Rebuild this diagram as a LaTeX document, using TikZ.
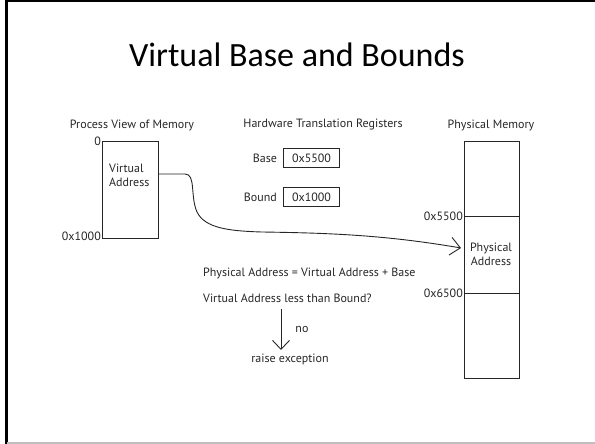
\documentclass[tikz,border=0pt]{standalone}
\usepackage{fontspec}
\setmainfont{PT Sans}
\newfontfamily\titlefont{Carlito}
\usetikzlibrary{arrows.meta}

\begin{document}
\begin{tikzpicture}[x=1pt,y=-1pt,
  every node/.style={text=black!85,font=\fontsize{12}{14}\selectfont,inner sep=1pt},
  membox/.style={draw=black!85,line width=0.9pt,anchor=north west,minimum width=#1,inner sep=0pt},
  regbox/.style={draw=black!85,line width=0.8pt,minimum width=56pt,minimum height=19pt,inner sep=0pt},
  barb/.style={-{Straight Barb[length=10pt,width=18pt,line width=0.9pt]},line width=0.9pt,black!85}]
\useasboundingbox (0,0) rectangle (595,444);
% slide frame
\fill[black] (5,0) rectangle (7.5,444);
\fill[black] (5,0) rectangle (595,2);
\draw[black!25,line width=1.2pt] (7,443) -- (595,443);

\node[font=\titlefont\fontsize{34}{40}\selectfont,text=black] (title) at (297,55) {Virtual Base and Bounds};

% process view
\node (pvtitle) at (132,125) {Process View of Memory};
\node[membox=56pt,minimum height=97pt] (vmem) at (102,141) {};
\node[anchor=east] (vzero) at (vmem.north west) {0};
\node[anchor=east] (vtop) at ([yshift=3pt]vmem.south west) {0x1000};
\node[anchor=north west,align=left,inner sep=0pt] (va) at (109,164) {Virtual\\Address};

% registers
\node (hwtitle) at (323,125) {Hardware Translation Registers};
\node[regbox] (base) at (311.5,158) {0x5500};
\node[anchor=east] (baselbl) at ([xshift=-5pt]base.west) {Base};
\node[regbox] (bound) at (311.5,197) {0x1000};
\node[anchor=east] (boundlbl) at ([xshift=-5pt]bound.west) {Bound};

% physical memory
\node (pmtitle) at (491,125) {Physical Memory};
\node[membox=55pt,minimum height=237pt] (pmem) at (464,141) {};
\coordinate (lo) at (464,216);
\coordinate (hi) at (464,293);
\draw[black!85,line width=0.9pt] (lo) -- ++(55,0);
\draw[black!85,line width=0.9pt] (hi) -- ++(55,0);
\node[anchor=east] (lolbl) at (lo) {0x5500};
\node[anchor=east] (hilbl) at (hi) {0x6500};
\node[align=center,inner sep=0pt] (pa) at (491,254) {Physical\\Address};
\coordinate (patip) at (461,248);

% translation
\draw[barb] (vmem.east |- 0,174) -- (185,174)
  .. controls (196,174) and (190,196) .. (197,212)
  .. controls (205,228) and (228,231) .. (262,232)
  .. controls (330,233) and (385,235) .. (patip);

\node[anchor=west] (sum) at (202,273) {Physical Address = Virtual Address + Base};
\node[anchor=west] (check) at (202,298) {Virtual Address less than Bound?};
\node (exc) at (290,359) {raise exception};
\draw[-{Straight Barb[length=9pt,width=17pt,line width=0.9pt]},line width=0.9pt,black!85]
  (281,309) -- (281,350) node[midway,right=14pt,inner sep=0pt] (no) {no};
\end{tikzpicture}
\end{document}
